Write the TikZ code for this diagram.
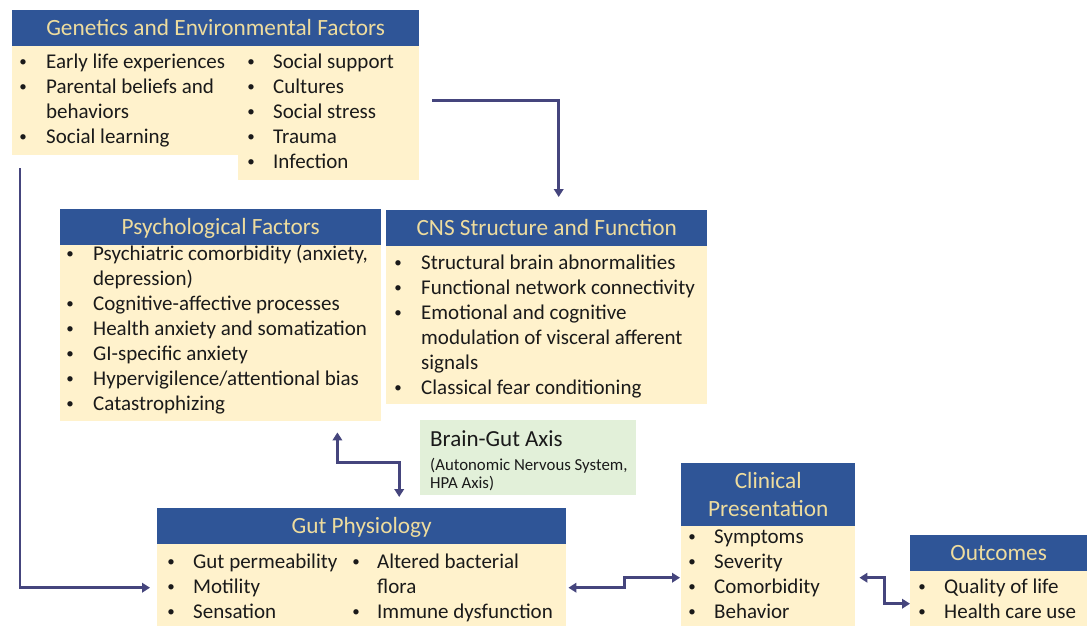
\documentclass[tikz,border=0pt]{standalone}
\usepackage{fontspec}
\setmainfont{Carlito}
\usetikzlibrary{arrows.meta,calc}
\definecolor{hdrblue}{HTML}{2F5597}
\definecolor{cream}{HTML}{FFF2CC}
\definecolor{sage}{HTML}{E2F0D9}
\definecolor{hdrtext}{HTML}{EEDC9E}
\definecolor{inktext}{HTML}{1A1A1A}
\definecolor{linkcol}{HTML}{45457D}

% panel: name, x1, y1, x2, y2, style, text  (pixel-style coordinates, y downwards)
\newcommand\panelbox[7]{\node[#6, minimum width={(#4)-(#2)}, minimum height={(#5)-(#3)}] (#1) at (#2,#3) {#7};}
% bullet item: name, bullet x, text x, baseline y, text
\newcommand\bitem[5]{\node[dot] (#1b) at (#2,#4) {\raisebox{1.6pt}{\fontsize{15}{15}\selectfont\textbullet}}; \node[itemtxt] (#1) at (#3,#4) {#5};}

\begin{document}
\begin{tikzpicture}[x=1pt,y=-1pt,
  panel/.style={rectangle, inner sep=0pt, anchor=north west, draw=none},
  hdr/.style={panel, fill=hdrblue, text=hdrtext, font=\fontsize{23.3}{28}\selectfont, text height=15.5pt, text depth=0pt},
  hdrtwo/.style={panel, fill=hdrblue, text=hdrtext, font=\fontsize{23.3}{28}\selectfont, align=center},
  body/.style={panel, fill=cream},
  axisbox/.style={panel, fill=sage},
  itemtxt/.style={inner sep=0pt, anchor=base west, text=inktext, font=\fontsize{21}{25}\selectfont},
  dot/.style={inner sep=0pt, anchor=base, text=inktext, font=\fontsize{21}{25}\selectfont},
  axistitle/.style={inner sep=0pt, anchor=base west, text=inktext, font=\fontsize{23}{28}\selectfont},
  axissub/.style={inner sep=0pt, anchor=base west, text=inktext, font=\fontsize{16.8}{18}\selectfont},
  link/.style={draw=linkcol, line width=2.8pt, -{Triangle[length=8pt,width=9.5pt]}},
  duallink/.style={link, {Triangle[length=8pt,width=9.5pt]}-{Triangle[length=8pt,width=9.5pt]}},
]
\useasboundingbox (0,0) rectangle (1091,626);

% Genetics and environmental factors
\panelbox{genhead}{12}{10}{419}{46}{hdr}{Genetics and Environmental Factors}
\panelbox{genbody}{12}{46}{419}{155}{body}{}
\panelbox{genext}{238}{154}{419}{180}{body}{}
\bitem{g1}{23}{46}{68.5}{Early life experiences}
\bitem{g2}{23}{46}{93.5}{Parental beliefs and}
\node[itemtxt] (g2b2) at (46,118.5) {behaviors};
\bitem{g3}{23}{46}{143.5}{Social learning}
\bitem{g4}{251}{273}{68.5}{Social support}
\bitem{g5}{251}{273}{93.5}{Cultures}
\bitem{g6}{251}{273}{118.5}{Social stress}
\bitem{g7}{251}{273}{143.5}{Trauma}
\bitem{g8}{251}{273}{168.5}{Infection}

% Psychological factors
\panelbox{psyhead}{60}{209}{381}{245}{hdr}{Psychological Factors}
\panelbox{psybody}{60}{245}{381}{421}{body}{}
\bitem{p1}{70}{93}{260.5}{Psychiatric comorbidity (anxiety,}
\node[itemtxt] (p1c) at (93,285.5) {depression)};
\bitem{p2}{70}{93}{310.5}{Cognitive-affective processes}
\bitem{p3}{70}{93}{335.5}{Health anxiety and somatization}
\bitem{p4}{70}{93}{360.5}{GI-specific anxiety}
\bitem{p5}{70}{93}{385.5}{Hypervigilence/attentional bias}
\bitem{p6}{70}{93}{410.5}{Catastrophizing}

% CNS structure and function
\panelbox{cnshead}{386}{210}{707}{246}{hdr}{CNS Structure and Function}
\panelbox{cnsbody}{386}{246}{707}{404}{body}{}
\bitem{c1}{398}{421}{269.5}{Structural brain abnormalities}
\bitem{c2}{398}{421}{294.5}{Functional network connectivity}
\bitem{c3}{398}{421}{319.5}{Emotional and cognitive}
\node[itemtxt] (c3b) at (421,344.5) {modulation of visceral afferent};
\node[itemtxt] (c3c) at (421,369.5) {signals};
\bitem{c4}{398}{421}{394.5}{Classical fear conditioning}

% Brain-gut axis
\panelbox{axis}{420}{420}{636}{495}{axisbox}{}
\node[axistitle] (axist) at (430,446) {Brain-Gut Axis};
\node[axissub] (axis1) at (430,470) {(Autonomic Nervous System,};
\node[axissub] (axis2) at (430,488) {HPA Axis)};

% Gut physiology
\panelbox{guthead}{157}{508}{566}{544}{hdr}{Gut Physiology}
\panelbox{gutbody}{157}{544}{566}{626}{body}{}
\bitem{u1}{171}{193}{568}{Gut permeability}
\bitem{u2}{171}{193}{593}{Motility}
\bitem{u3}{171}{193}{618}{Sensation}
\bitem{u4}{356}{377}{568}{Altered bacterial}
\node[itemtxt] (u4b) at (377,593) {flora};
\bitem{u5}{356}{377}{618}{Immune dysfunction}

% Clinical presentation
\panelbox{clinhead}{681}{463}{855}{526}{hdrtwo}{Clinical\\Presentation}
\panelbox{clinbody}{681}{526}{855}{626}{body}{}
\bitem{k1}{692}{714}{543}{Symptoms}
\bitem{k2}{692}{714}{568}{Severity}
\bitem{k3}{692}{714}{593}{Comorbidity}
\bitem{k4}{692}{714}{618}{Behavior}

% Outcomes
\panelbox{outhead}{910}{535}{1087}{571}{hdr}{Outcomes}
\panelbox{outbody}{910}{571}{1087}{626}{body}{}
\bitem{o1}{922}{944}{593}{Quality of life}
\bitem{o2}{922}{944}{618}{Health care use}

% Connectors
\draw[link, shorten >=13pt] ([xshift=13pt]genbody.east) -| ([xshift=12pt]cnshead.north);
\draw[link, shorten <=13pt, shorten >=7pt] ([xshift=8pt]genbody.south west) |- ([yshift=-2.5pt]gutbody.west);
\draw[duallink, shorten <=11pt, shorten >=11pt] ([xshift=-44pt]psybody.south east) -- ++(0,41) -| ([xshift=37.5pt]guthead.north);
\draw[duallink, shorten <=2pt, shorten >=1pt] ([yshift=-2.5pt]gutbody.east) -- ++(58,0) |- ([yshift=-1.5pt]clinbody.west);
\draw[duallink, shorten <=4pt] ([yshift=-1.5pt]clinbody.east) -- ++(29,0) |- ([yshift=-5pt]outbody.west);
\end{tikzpicture}
\end{document}
